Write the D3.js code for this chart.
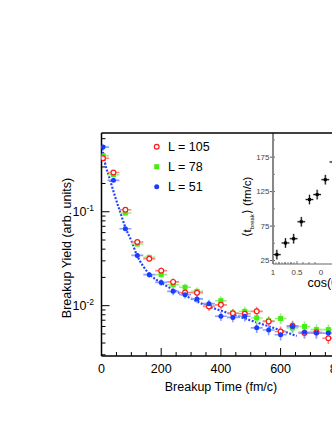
<!DOCTYPE html>
<html><head><meta charset="utf-8">
<script src="https://cdn.jsdelivr.net/npm/d3@7"></script>
<style>html,body{margin:0;padding:0;background:#fff;overflow:hidden}svg{display:block}text{font-family:"Liberation Sans",Arial,sans-serif}</style>
</head><body>
<script>
// ---- data ----
const times = [5,40,80,120,160,200,240,280,320,360,400,440,480,520,560,600,640,680,720,760];
const yieldL105 = [0.372,0.262,0.105,0.0477,0.0316,0.0236,0.0179,0.0138,0.0137,0.0098,0.0102,0.0083,0.0082,0.0087,0.0068,0.0053,0.0061,0.0051,0.0052,0.0045];
const yieldL78  = [0.395,0.248,0.0969,0.0453,0.0327,0.0214,0.0167,0.0157,0.0142,0.0100,0.0113,0.00835,0.0087,0.0074,0.0069,0.0073,0.0058,0.0060,0.00556,0.00556];
const yieldL51  = [0.488,0.216,0.066,0.0343,0.0214,0.0177,0.0142,0.0131,0.0118,0.0105,0.0077,0.0075,0.0077,0.0058,0.0055,0.0049,0.0060,0.0052,0.0051,0.0051];
const relErr    = [0.03,0.04,0.05,0.06,0.07,0.08,0.09,0.09,0.10,0.10,0.11,0.11,0.12,0.12,0.12,0.13,0.13,0.13,0.13,0.13];
const timeHalfBin = 20;
const fitTimes  = [0.7,11.7,28.5,45.2,62,78.7,101,118,140,162,202,240,296,352,408,464,520,587,654];
const fitYield  = [0.516,0.332,0.219,0.146,0.1007,0.0698,0.0483,0.0349,0.0262,0.0214,0.0174,0.0148,0.0121,0.0100,0.0087,0.0076,0.00664,0.00565,0.00475];
const legendLabels = ["L = 105","L = 78","L = 51"];
const xTicks = [0,200,400,600,800];
const yTickExp = [-1,-2];
// inset
const insetCos  = [0.92,0.74,0.57,0.41,0.24,0.08,-0.09,-0.26];
const insetT    = [33.6,50.5,56.7,81.3,113.5,120.7,142.3,168];
const insetCosErr = 0.08, insetTErr = 7;
const insetYTicks = [25,75,125,175];
const insetXTicks = [1,0.5,0];

const W=332,H=430;
const svg=d3.select("body").append("svg").attr("width",W).attr("height",H);
const L=101.5, T=133, B=356;
const x=d3.scaleLinear().domain([0,1000]).range([L,L+298.5]);
const y=d3.scaleLog().domain([0.00291,0.69]).range([B,T]);

svg.append("defs").append("clipPath").attr("id","pc").append("rect")
  .attr("x",L).attr("y",T).attr("width",400).attr("height",B-T);

// axes ticks
const ax=svg.append("g");
d3.range(0,1001,50).forEach(v=>{
  const major = v%200===0;
  ax.append("line").attr("x1",x(v)).attr("x2",x(v)).attr("y1",B).attr("y2",B-(major?8:4))
    .attr("stroke","#000").attr("stroke-width",1);
});
xTicks.forEach(v=>{
  ax.append("text").attr("x",x(v)).attr("y",372.5).attr("text-anchor","middle")
    .attr("font-size",12.5).text(v);
});
[-3,-2,-1].forEach(e=>{
  for(let m=1;m<10;m++){
    const v=m*Math.pow(10,e);
    if(v<y.domain()[0]||v>y.domain()[1]) continue;
    ax.append("line").attr("x1",L).attr("x2",L+(m===1?8:4)).attr("y1",y(v)).attr("y2",y(v))
      .attr("stroke","#000").attr("stroke-width",1);
  }
});
yTickExp.forEach(e=>{
  const t=ax.append("text").attr("x",94).attr("y",y(Math.pow(10,e))+4.5).attr("text-anchor","end").attr("font-size",12.5);
  t.append("tspan").text("10");
  t.append("tspan").attr("font-size",8.5).attr("dy",-5).text(String(e));
});
ax.append("line").attr("x1",L).attr("x2",L).attr("y1",T).attr("y2",B).attr("stroke","#000").attr("stroke-width",1.5);
ax.append("line").attr("x1",L).attr("x2",W).attr("y1",B).attr("y2",B).attr("stroke","#000").attr("stroke-width",1.5);

svg.append("text").attr("x",221).attr("y",391).attr("text-anchor","middle").attr("font-size",12.5).text("Breakup Time (fm/c)");
svg.append("text").attr("transform","translate(71,248) rotate(-90)").attr("text-anchor","middle").attr("font-size",12.5).text("Breakup Yield (arb. units)");

const series=[
  {vals:yieldL105,color:"#ff1a1a",err:"#ff8080",shape:"open"},
  {vals:yieldL78,color:"#44ee11",err:"#99f080",shape:"square"},
  {vals:yieldL51,color:"#1a3cff",err:"#8aa0ff",shape:"circle"}
];
const dg=svg.append("g").attr("clip-path","url(#pc)");
function marker(g,s,cx,cy){
  if(s.shape==="open") g.append("circle").attr("cx",cx).attr("cy",cy).attr("r",2.4).attr("fill","#fff").attr("stroke",s.color).attr("stroke-width",1.2);
  else if(s.shape==="square") g.append("rect").attr("x",cx-2.5).attr("y",cy-2.5).attr("width",5).attr("height",5).attr("fill",s.color);
  else g.append("circle").attr("cx",cx).attr("cy",cy).attr("r",2.5).attr("fill",s.color);
}
dg.append("path").datum(fitTimes.map((t,i)=>[t,fitYield[i]]))
  .attr("d",d3.line().x(d=>x(d[0])).y(d=>y(d[1])).curve(d3.curveMonotoneX))
  .attr("fill","none").attr("stroke","#2244ff").attr("stroke-width",2.2).attr("stroke-dasharray","2,1.6");
[1,0,2].forEach(si=>{
  const s=series[si];
  times.forEach((t,i)=>{
    const v=s.vals[i], e=v*relErr[i];
    dg.append("line").attr("x1",x(t-timeHalfBin)).attr("x2",x(t+timeHalfBin)).attr("y1",y(v)).attr("y2",y(v)).attr("stroke",s.err).attr("stroke-width",1.6);
    dg.append("line").attr("x1",x(t)).attr("x2",x(t)).attr("y1",y(v-e)).attr("y2",y(v+e)).attr("stroke",s.err).attr("stroke-width",1.6);
  });
});
[1,0,2].forEach(si=>{
  const s=series[si];
  times.forEach((t,i)=>marker(dg,s,x(t),y(s.vals[i])));
});

const lg=svg.append("g");
legendLabels.forEach((lab,i)=>{
  const cy=146.7+i*20;
  marker(lg,series[i],156.7,cy);
  lg.append("text").attr("x",168).attr("y",cy+4.5).attr("font-size",12.5).text(lab);
});

// inset
const IL=273, IB=264, IT=133;
const ix=d3.scaleLinear().domain([1,-1]).range([IL,IL+96]);
const iy=d3.scaleLinear().domain([20,210]).range([IB,IT]);
const ig=svg.append("g");
ig.append("rect").attr("x",238).attr("y",T).attr("width",W-238).attr("height",160).attr("fill","#fff");
d3.range(0,8).map(k=>1-k*0.125).forEach(v=>{
  const major = Math.abs((v*2)-Math.round(v*2))<1e-6;
  ig.append("line").attr("x1",ix(v)).attr("x2",ix(v)).attr("y1",IB).attr("y2",IB-(major?3:2)).attr("stroke","#555").attr("stroke-width",0.8);
});
d3.range(0,8).map(k=>1-k*0.0625).forEach(v=>{
  ig.append("line").attr("x1",ix(v)).attr("x2",ix(v)).attr("y1",IB).attr("y2",IB-1.8).attr("stroke","#555").attr("stroke-width",0.7);
});
insetXTicks.forEach(v=>{
  ig.append("text").attr("x",ix(v)).attr("y",274.5).attr("text-anchor","middle").attr("font-size",8).attr("fill","#444").text(v);
});
[50,100,150,200].forEach(v=>{
  ig.append("line").attr("x1",IL).attr("x2",IL+2).attr("y1",iy(v)).attr("y2",iy(v)).attr("stroke","#666").attr("stroke-width",0.8);
});
insetYTicks.forEach(v=>{
  ig.append("line").attr("x1",IL-3).attr("x2",IL+2).attr("y1",iy(v)).attr("y2",iy(v)).attr("stroke","#444").attr("stroke-width",0.9);
  ig.append("text").attr("x",IL-3.5).attr("y",iy(v)+2.8).attr("text-anchor","end").attr("font-size",8).attr("fill","#444").text(v);
});
ig.append("line").attr("x1",IL).attr("x2",IL).attr("y1",IT).attr("y2",IB).attr("stroke","#888").attr("stroke-width",2);
ig.append("line").attr("x1",IL).attr("x2",W).attr("y1",IB).attr("y2",IB).attr("stroke","#666").attr("stroke-width",1);
const il=ig.append("text").attr("transform","translate(251,207) rotate(-90)").attr("text-anchor","middle").attr("font-size",11.5);
il.append("tspan").text("\u27E8t");
il.append("tspan").attr("font-size",6).attr("dy",3).text("break");
il.append("tspan").attr("dy",-3).text("\u27E9 (fm/c)");
ig.append("text").attr("x",307.5).attr("y",287).attr("font-size",12.5).text("cos(\u03B8)");
insetCos.forEach((c,i)=>{
  const px=ix(c), py=iy(insetT[i]);
  ig.append("line").attr("x1",ix(c+insetCosErr)).attr("x2",ix(c-insetCosErr)).attr("y1",py).attr("y2",py).attr("stroke","#bbb").attr("stroke-width",2.2);
  ig.append("line").attr("x1",px).attr("x2",px).attr("y1",iy(insetT[i]-insetTErr)).attr("y2",iy(insetT[i]+insetTErr)).attr("stroke","#bbb").attr("stroke-width",2.2);
  ig.append("line").attr("x1",ix(c+insetCosErr)).attr("x2",ix(c-insetCosErr)).attr("y1",py).attr("y2",py).attr("stroke","#000").attr("stroke-width",0.9);
  ig.append("line").attr("x1",px).attr("x2",px).attr("y1",iy(insetT[i]-insetTErr)).attr("y2",iy(insetT[i]+insetTErr)).attr("stroke","#000").attr("stroke-width",0.9);
  ig.append("rect").attr("x",px-1.5).attr("y",py-1.5).attr("width",3).attr("height",3).attr("fill","#000");
});
svg.append("line").attr("x1",L).attr("x2",W).attr("y1",T).attr("y2",T).attr("stroke","#000").attr("stroke-width",1.5);
</script>
</body></html>
